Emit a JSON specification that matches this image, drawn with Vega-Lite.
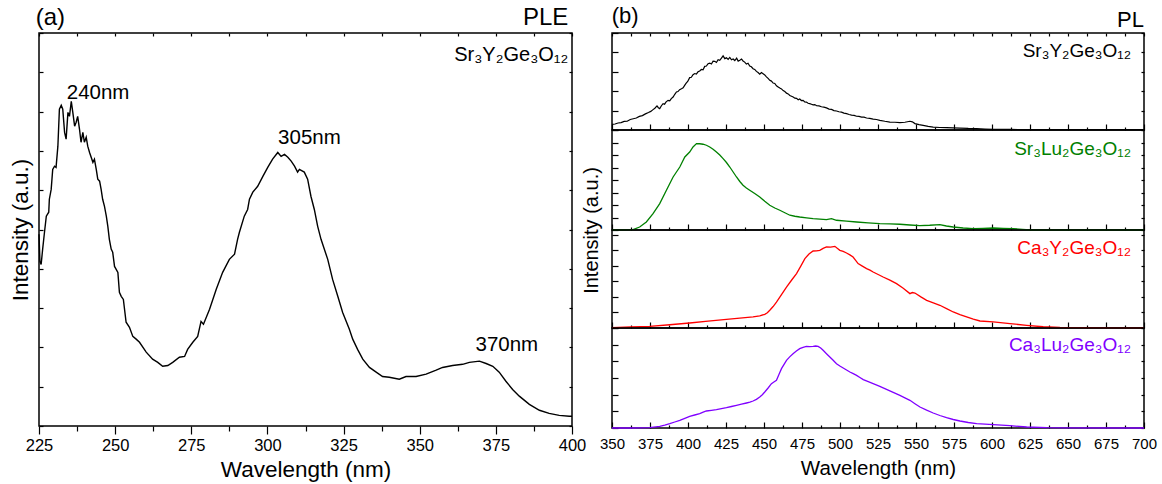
{
"$schema": "https://vega.github.io/schema/vega-lite/v6.json",
"padding": {"left": 8, "top": 4, "right": 6, "bottom": 2},
"background": "white",
"config": {
  "font": "Liberation Sans",
  "view": {"stroke": "black", "strokeWidth": 1.5},
  "axis": {"grid": false, "domain": false, "tickColor": "black", "tickWidth": 1.2, "labelColor": "black", "titleColor": "black", "titleFontWeight": "normal", "labelFlush": false, "labelOverlap": false, "labelFont": "Liberation Sans", "titleFont": "Liberation Sans"},
  "text": {"font": "Liberation Sans"}
},
"datasets": {
  "ple": [
    {"wl":225.0,"i":48.8},{"wl":225.3,"i":41.9},{"wl":225.7,"i":41.1},{"wl":226.2,"i":45.0},{"wl":226.8,"i":49.3},{"wl":227.4,"i":53.4},{"wl":228.2,"i":54.4},{"wl":228.4,"i":57.7},{"wl":229.0,"i":60.2},{"wl":229.5,"i":65.3},{"wl":230.1,"i":66.1},{"wl":230.6,"i":65.8},{"wl":231.2,"i":71.2},{"wl":231.7,"i":80.6},{"wl":232.3,"i":81.6},{"wl":232.8,"i":80.6},{"wl":233.4,"i":74.7},{"wl":233.9,"i":73.0},{"wl":234.5,"i":79.8},{"wl":235.0,"i":78.8},{"wl":235.6,"i":82.6},{"wl":236.1,"i":79.8},{"wl":236.7,"i":76.3},{"wl":237.2,"i":77.3},{"wl":237.7,"i":78.8},{"wl":238.3,"i":75.5},{"wl":238.8,"i":72.2},{"wl":239.4,"i":74.7},{"wl":239.9,"i":72.2},{"wl":240.5,"i":73.5},{"wl":241.0,"i":71.2},{"wl":241.6,"i":69.6},{"wl":242.7,"i":67.1},{"wl":243.2,"i":67.9},{"wl":243.8,"i":65.3},{"wl":244.3,"i":62.8},{"wl":244.9,"i":62.3},{"wl":245.4,"i":60.2},{"wl":245.9,"i":57.7},{"wl":246.5,"i":55.9},{"wl":247.1,"i":53.4},{"wl":247.6,"i":50.8},{"wl":248.1,"i":47.5},{"wl":248.7,"i":45.0},{"wl":249.2,"i":44.2},{"wl":249.8,"i":40.6},{"wl":250.9,"i":39.1},{"wl":251.4,"i":34.0},{"wl":252.0,"i":33.0},{"wl":252.7,"i":32.2},{"wl":253.6,"i":26.4},{"wl":254.7,"i":25.1},{"wl":255.8,"i":22.8},{"wl":256.9,"i":22.1},{"wl":258.0,"i":21.3},{"wl":260.2,"i":18.8},{"wl":262.3,"i":17.0},{"wl":264.0,"i":16.2},{"wl":265.6,"i":15.2},{"wl":267.3,"i":15.4},{"wl":268.9,"i":16.2},{"wl":271.1,"i":17.5},{"wl":272.8,"i":17.7},{"wl":273.8,"i":19.5},{"wl":275.5,"i":21.3},{"wl":277.1,"i":22.8},{"wl":278.2,"i":26.6},{"wl":279.0,"i":25.9},{"wl":281.0,"i":29.7},{"wl":283.2,"i":34.8},{"wl":285.3,"i":39.1},{"wl":287.5,"i":42.4},{"wl":289.2,"i":43.7},{"wl":290.2,"i":47.5},{"wl":290.8,"i":49.3},{"wl":292.4,"i":53.4},{"wl":293.5,"i":55.1},{"wl":294.1,"i":57.7},{"wl":295.2,"i":59.5},{"wl":296.8,"i":61.0},{"wl":298.5,"i":63.5},{"wl":300.1,"i":65.8},{"wl":301.7,"i":67.9},{"wl":303.4,"i":69.6},{"wl":304.5,"i":68.6},{"wl":305.6,"i":69.1},{"wl":306.7,"i":68.4},{"wl":307.8,"i":67.4},{"wl":308.9,"i":66.1},{"wl":309.9,"i":64.6},{"wl":310.5,"i":65.3},{"wl":312.1,"i":64.6},{"wl":313.2,"i":62.8},{"wl":314.3,"i":58.4},{"wl":315.4,"i":55.1},{"wl":316.5,"i":50.8},{"wl":317.6,"i":47.5},{"wl":319.8,"i":42.4},{"wl":321.4,"i":37.3},{"wl":323.1,"i":33.0},{"wl":324.7,"i":28.9},{"wl":326.9,"i":24.6},{"wl":328.0,"i":22.1},{"wl":329.6,"i":19.5},{"wl":331.3,"i":17.0},{"wl":333.5,"i":14.9},{"wl":335.7,"i":13.7},{"wl":337.8,"i":12.6},{"wl":340.0,"i":12.4},{"wl":343.3,"i":11.9},{"wl":345.5,"i":12.6},{"wl":348.8,"i":12.6},{"wl":352.1,"i":13.2},{"wl":355.4,"i":14.2},{"wl":357.5,"i":14.9},{"wl":360.8,"i":15.4},{"wl":364.1,"i":15.7},{"wl":366.3,"i":16.2},{"wl":369.6,"i":16.5},{"wl":371.8,"i":15.9},{"wl":374.0,"i":15.2},{"wl":376.1,"i":13.7},{"wl":378.3,"i":11.4},{"wl":380.5,"i":9.3},{"wl":382.7,"i":7.6},{"wl":386.0,"i":5.5},{"wl":389.3,"i":4.0},{"wl":392.5,"i":3.2},{"wl":395.8,"i":2.7},{"wl":399.1,"i":2.5},{"wl":400.0,"i":2.5}
  ],
  "pl1": [
    {"wl":350.0,"i":0.29},{"wl":352,"i":0.31},{"wl":354,"i":0.36},{"wl":356,"i":0.38},{"wl":358,"i":0.44},{"wl":360,"i":0.45},{"wl":362,"i":0.54},{"wl":364,"i":0.58},{"wl":366,"i":0.62},{"wl":368,"i":0.70},{"wl":370,"i":0.74},{"wl":372,"i":0.83},{"wl":374,"i":0.90},{"wl":375.5,"i":0.96},{"wl":377,"i":1.05},{"wl":378.2,"i":1.12},{"wl":379.6,"i":1.24},{"wl":380.5,"i":1.15},{"wl":381.4,"i":1.10},{"wl":382.5,"i":1.25},{"wl":383.6,"i":1.36},{"wl":384.6,"i":1.33},{"wl":385.6,"i":1.45},{"wl":386.9,"i":1.53},{"wl":388,"i":1.50},{"wl":389,"i":1.62},{"wl":390.2,"i":1.70},{"wl":391.3,"i":1.84},{"wl":392.4,"i":1.96},{"wl":393.4,"i":1.98},{"wl":394.5,"i":2.08},{"wl":395.7,"i":2.13},{"wl":396.8,"i":2.18},{"wl":397.8,"i":2.30},{"wl":398.8,"i":2.42},{"wl":399.8,"i":2.50},{"wl":401.1,"i":2.70},{"wl":402.2,"i":2.72},{"wl":403.3,"i":2.85},{"wl":404.4,"i":2.91},{"wl":405.5,"i":2.88},{"wl":406.6,"i":3.00},{"wl":407.7,"i":3.04},{"wl":408.8,"i":3.12},{"wl":409.9,"i":3.10},{"wl":411.0,"i":3.28},{"wl":412.1,"i":3.30},{"wl":413.2,"i":3.42},{"wl":414.3,"i":3.45},{"wl":415.4,"i":3.40},{"wl":416.5,"i":3.55},{"wl":417.6,"i":3.54},{"wl":418.7,"i":3.48},{"wl":419.8,"i":3.62},{"wl":420.9,"i":3.59},{"wl":422.0,"i":3.70},{"wl":423.1,"i":3.82},{"wl":424.2,"i":3.68},{"wl":425.3,"i":3.72},{"wl":426.4,"i":3.64},{"wl":427.5,"i":3.74},{"wl":428.6,"i":3.62},{"wl":429.7,"i":3.66},{"wl":430.8,"i":3.58},{"wl":432.0,"i":3.70},{"wl":433.0,"i":3.55},{"wl":434.1,"i":3.60},{"wl":435.2,"i":3.66},{"wl":436.2,"i":3.56},{"wl":437.3,"i":3.50},{"wl":438.4,"i":3.40},{"wl":439.5,"i":3.44},{"wl":440.6,"i":3.30},{"wl":441.7,"i":3.26},{"wl":442.8,"i":3.16},{"wl":443.9,"i":3.12},{"wl":445.0,"i":3.02},{"wl":446.1,"i":2.96},{"wl":447.2,"i":2.88},{"wl":448.3,"i":2.96},{"wl":449.4,"i":2.90},{"wl":450.5,"i":2.84},{"wl":451.6,"i":2.74},{"wl":452.7,"i":2.66},{"wl":453.8,"i":2.56},{"wl":454.9,"i":2.52},{"wl":456.0,"i":2.42},{"wl":457.1,"i":2.40},{"wl":458.2,"i":2.28},{"wl":459.3,"i":2.22},{"wl":460.4,"i":2.16},{"wl":461.5,"i":2.12},{"wl":462.6,"i":2.03},{"wl":463.7,"i":1.98},{"wl":464.8,"i":1.90},{"wl":465.9,"i":1.86},{"wl":467.0,"i":1.78},{"wl":468.1,"i":1.74},{"wl":469.2,"i":1.70},{"wl":470.3,"i":1.64},{"wl":471.4,"i":1.63},{"wl":472.5,"i":1.56},{"wl":473.5,"i":1.60},{"wl":474.6,"i":1.52},{"wl":475.7,"i":1.53},{"wl":476.8,"i":1.45},{"wl":477.9,"i":1.44},{"wl":479.0,"i":1.38},{"wl":480.1,"i":1.36},{"wl":481.2,"i":1.33},{"wl":482.3,"i":1.30},{"wl":483.4,"i":1.31},{"wl":484.6,"i":1.25},{"wl":486.2,"i":1.24},{"wl":487.8,"i":1.20},{"wl":489.4,"i":1.18},{"wl":491.1,"i":1.14},{"wl":492.8,"i":1.08},{"wl":494.4,"i":1.06},{"wl":496.0,"i":1.00},{"wl":497.7,"i":0.98},{"wl":499.3,"i":0.94},{"wl":501.0,"i":0.92},{"wl":502.6,"i":0.87},{"wl":504.3,"i":0.84},{"wl":506.0,"i":0.80},{"wl":507.6,"i":0.77},{"wl":509.3,"i":0.75},{"wl":510.9,"i":0.71},{"wl":512.5,"i":0.70},{"wl":514.2,"i":0.66},{"wl":515.8,"i":0.66},{"wl":517.5,"i":0.62},{"wl":519.6,"i":0.60},{"wl":521.8,"i":0.56},{"wl":524.0,"i":0.54},{"wl":526.2,"i":0.50},{"wl":529.5,"i":0.45},{"wl":532.8,"i":0.41},{"wl":536.1,"i":0.40},{"wl":539.4,"i":0.38},{"wl":542.7,"i":0.40},{"wl":546.0,"i":0.45},{"wl":547.6,"i":0.42},{"wl":549.3,"i":0.33},{"wl":552.0,"i":0.28},{"wl":554.7,"i":0.24},{"wl":558.0,"i":0.19},{"wl":561.3,"i":0.15},{"wl":565.7,"i":0.13},{"wl":570.1,"i":0.12},{"wl":574.5,"i":0.11},{"wl":578.9,"i":0.10},{"wl":584.4,"i":0.08},{"wl":589.9,"i":0.07},{"wl":595.4,"i":0.05},{"wl":600.8,"i":0.03},{"wl":611.8,"i":0.03},{"wl":622.8,"i":0.02},{"wl":640,"i":0.02},{"wl":660,"i":0.02},{"wl":680,"i":0.02},{"wl":700,"i":0.02}
  ],
  "pl2": [
    {"wl":350.0,"i":0},{"wl":363.8,"i":0.03},{"wl":368.2,"i":0.24},{"wl":372.6,"i":0.64},{"wl":377.0,"i":1.31},{"wl":381.4,"i":2.11},{"wl":385.8,"i":3.18},{"wl":390.2,"i":4.24},{"wl":394.6,"i":5.04},{"wl":397.9,"i":5.84},{"wl":401.1,"i":6.24},{"wl":403.3,"i":6.64},{"wl":405.6,"i":6.91},{"wl":407.7,"i":6.90},{"wl":409.9,"i":6.86},{"wl":412.1,"i":6.78},{"wl":414.3,"i":6.64},{"wl":416.5,"i":6.46},{"wl":418.7,"i":6.24},{"wl":420.9,"i":6.0},{"wl":423.1,"i":5.71},{"wl":425.3,"i":5.40},{"wl":427.5,"i":5.04},{"wl":429.7,"i":4.64},{"wl":431.9,"i":4.24},{"wl":434.1,"i":3.88},{"wl":436.2,"i":3.58},{"wl":438.4,"i":3.36},{"wl":440.6,"i":3.18},{"wl":443.9,"i":2.92},{"wl":447.2,"i":2.64},{"wl":450.5,"i":2.30},{"wl":453.8,"i":1.98},{"wl":457.1,"i":1.76},{"wl":460.4,"i":1.58},{"wl":463.7,"i":1.38},{"wl":467.0,"i":1.18},{"wl":470.3,"i":1.10},{"wl":473.5,"i":1.04},{"wl":478.0,"i":0.97},{"wl":482.3,"i":0.91},{"wl":486.7,"i":0.87},{"wl":491.1,"i":0.83},{"wl":494.4,"i":0.91},{"wl":497.7,"i":0.78},{"wl":504.3,"i":0.71},{"wl":510.9,"i":0.64},{"wl":518.5,"i":0.57},{"wl":526.2,"i":0.51},{"wl":532.8,"i":0.49},{"wl":539.4,"i":0.46},{"wl":546.0,"i":0.40},{"wl":552.6,"i":0.35},{"wl":559.0,"i":0.38},{"wl":565.7,"i":0.43},{"wl":570.0,"i":0.32},{"wl":574.5,"i":0.24},{"wl":581.0,"i":0.16},{"wl":587.7,"i":0.11},{"wl":594.0,"i":0.13},{"wl":600.8,"i":0.16},{"wl":607.4,"i":0.13},{"wl":614.0,"i":0.11},{"wl":620.0,"i":0.05},{"wl":625.0,"i":0.0},{"wl":700,"i":0.0}
  ],
  "pl3": [
    {"wl":350.0,"i":0.03},{"wl":362.4,"i":0.07},{"wl":374.8,"i":0.11},{"wl":388.0,"i":0.21},{"wl":401.1,"i":0.32},{"wl":413.2,"i":0.44},{"wl":425.3,"i":0.56},{"wl":434.1,"i":0.64},{"wl":442.8,"i":0.71},{"wl":447.2,"i":0.78},{"wl":450.5,"i":0.88},{"wl":452.2,"i":0.98},{"wl":453.8,"i":1.14},{"wl":456.0,"i":1.38},{"wl":458.2,"i":1.67},{"wl":461.5,"i":2.15},{"wl":464.8,"i":2.63},{"wl":468.1,"i":3.07},{"wl":471.4,"i":3.50},{"wl":474.2,"i":3.98},{"wl":476.9,"i":4.46},{"wl":479.6,"i":4.76},{"wl":482.3,"i":4.95},{"wl":484.5,"i":4.96},{"wl":486.7,"i":4.99},{"wl":488.9,"i":5.12},{"wl":491.1,"i":5.21},{"wl":493.8,"i":5.20},{"wl":496.6,"i":5.25},{"wl":498.2,"i":5.12},{"wl":499.9,"i":4.99},{"wl":502.1,"i":4.92},{"wl":504.3,"i":4.82},{"wl":506.5,"i":4.70},{"wl":508.6,"i":4.56},{"wl":510.3,"i":4.35},{"wl":511.9,"i":4.14},{"wl":514.7,"i":3.98},{"wl":517.5,"i":3.82},{"wl":519.7,"i":3.72},{"wl":521.8,"i":3.60},{"wl":525.1,"i":3.44},{"wl":528.4,"i":3.28},{"wl":532.8,"i":3.08},{"wl":537.2,"i":2.85},{"wl":541.6,"i":2.55},{"wl":546.0,"i":2.21},{"wl":547.6,"i":2.28},{"wl":549.3,"i":2.25},{"wl":553.2,"i":2.00},{"wl":557.0,"i":1.78},{"wl":561.4,"i":1.62},{"wl":565.7,"i":1.46},{"wl":570.1,"i":1.25},{"wl":574.5,"i":1.03},{"wl":578.9,"i":0.86},{"wl":583.3,"i":0.71},{"wl":587.7,"i":0.57},{"wl":592.1,"i":0.45},{"wl":600.8,"i":0.39},{"wl":611.8,"i":0.28},{"wl":622.8,"i":0.17},{"wl":633.7,"i":0.08},{"wl":644.7,"i":0.04},{"wl":660,"i":0.02},{"wl":680,"i":0.01},{"wl":700,"i":0.01}
  ],
  "pl4": [
    {"wl":350.0,"i":0},{"wl":362.4,"i":0.0},{"wl":374.8,"i":0.02},{"wl":381.4,"i":0.10},{"wl":384.7,"i":0.17},{"wl":388.0,"i":0.26},{"wl":391.3,"i":0.36},{"wl":394.6,"i":0.46},{"wl":397.9,"i":0.58},{"wl":401.1,"i":0.70},{"wl":404.4,"i":0.78},{"wl":407.7,"i":0.86},{"wl":410.0,"i":0.95},{"wl":412.1,"i":1.02},{"wl":415.4,"i":1.06},{"wl":418.7,"i":1.10},{"wl":422.0,"i":1.16},{"wl":425.3,"i":1.22},{"wl":428.6,"i":1.29},{"wl":431.9,"i":1.36},{"wl":435.2,"i":1.43},{"wl":438.5,"i":1.50},{"wl":440.7,"i":1.55},{"wl":442.8,"i":1.62},{"wl":445.0,"i":1.72},{"wl":447.2,"i":1.86},{"wl":448.9,"i":2.0},{"wl":450.5,"i":2.16},{"wl":452.7,"i":2.40},{"wl":454.9,"i":2.66},{"wl":456.5,"i":2.76},{"wl":458.2,"i":2.86},{"wl":459.9,"i":3.22},{"wl":461.5,"i":3.56},{"wl":463.2,"i":3.82},{"wl":464.8,"i":4.06},{"wl":466.9,"i":4.27},{"wl":469.1,"i":4.46},{"wl":471.3,"i":4.62},{"wl":473.5,"i":4.76},{"wl":475.7,"i":4.84},{"wl":477.9,"i":4.90},{"wl":480.1,"i":4.88},{"wl":482.3,"i":4.90},{"wl":484.0,"i":4.92},{"wl":485.6,"i":4.90},{"wl":487.3,"i":4.80},{"wl":488.9,"i":4.66},{"wl":491.1,"i":4.46},{"wl":493.3,"i":4.26},{"wl":495.5,"i":4.06},{"wl":497.7,"i":3.86},{"wl":499.9,"i":3.72},{"wl":502.1,"i":3.60},{"wl":504.3,"i":3.48},{"wl":506.5,"i":3.36},{"wl":508.7,"i":3.26},{"wl":510.9,"i":3.16},{"wl":513.1,"i":3.03},{"wl":515.3,"i":2.90},{"wl":518.6,"i":2.78},{"wl":521.8,"i":2.66},{"wl":526.2,"i":2.50},{"wl":530.6,"i":2.32},{"wl":535.0,"i":2.14},{"wl":539.4,"i":1.96},{"wl":542.7,"i":1.81},{"wl":546.0,"i":1.66},{"wl":549.3,"i":1.46},{"wl":552.6,"i":1.26},{"wl":557.0,"i":1.07},{"wl":561.3,"i":0.90},{"wl":565.7,"i":0.75},{"wl":570.1,"i":0.62},{"wl":574.5,"i":0.51},{"wl":578.9,"i":0.42},{"wl":584.4,"i":0.33},{"wl":589.9,"i":0.26},{"wl":595.4,"i":0.23},{"wl":600.8,"i":0.20},{"wl":611.8,"i":0.14},{"wl":622.8,"i":0.06},{"wl":636.0,"i":0.02},{"wl":650,"i":0.01},{"wl":700,"i":0.0}
  ]
},
"spacing": 40,
"bounds": "flush",
"hconcat": [
  {
    "width": 533, "height": 393,
    "resolve": {"axis": {"x": "independent", "y": "independent"}},
    "layer": [
      {"data": {"name": "ple"}, "mark": {"type": "line", "color": "black", "strokeWidth": 1.4},
       "encoding": {
         "x": {"field": "wl", "type": "quantitative", "scale": {"domain": [225, 400], "nice": false, "zero": false},
               "axis": {"orient": "bottom", "values": [225,237.5,250,262.5,275,287.5,300,312.5,325,337.5,350,362.5,375,387.5,400],
                        "labelExpr": "datum.value % 25 === 0 ? datum.label : ''",
                        "tickSize": {"condition": {"test": "datum.value % 25 === 0", "value": 8}, "value": 5},
                        "labelFontSize": 16.5, "labelPadding": 3, "title": "Wavelength (nm)", "titleFontSize": 22.5, "titlePadding": 5}},
         "y": {"field": "i", "type": "quantitative", "scale": {"domain": [0, 100], "nice": false, "zero": false},
               "axis": {"orient": "left", "values": [0,10,20,30,40,50,60,70,80,90,100], "labels": false, "tickSize": -4,
                        "title": "Intensity (a.u.)", "titleFontSize": 22.5, "titlePadding": 6}}
       }},
      {"data": {"name": "ple"}, "mark": {"type": "line", "opacity": 0},
       "encoding": {
         "x": {"field": "wl", "type": "quantitative", "scale": {"domain": [225, 400], "nice": false, "zero": false},
               "axis": {"orient": "top", "values": [225,237.5,250,262.5,275,287.5,300,312.5,325,337.5,350,362.5,375,387.5,400], "labels": false, "tickSize": -3, "title": null}},
         "y": {"field": "i", "type": "quantitative", "scale": {"domain": [0, 100], "nice": false, "zero": false},
               "axis": {"orient": "right", "values": [0,10,20,30,40,50,60,70,80,90,100], "labels": false, "tickSize": -3, "title": null}}
       }},
      {"data": {"values": [{"wl": 244.4, "i": 83.1, "label": "240nm"}, {"wl": 313.8, "i": 71.7, "label": "305nm"}, {"wl": 378.6, "i": 19.1, "label": "370nm"}]},
       "mark": {"type": "text", "fontSize": 20.5, "align": "center", "baseline": "alphabetic", "color": "black"},
       "encoding": {
         "x": {"field": "wl", "type": "quantitative", "scale": {"domain": [225, 400], "nice": false, "zero": false}, "axis": null},
         "y": {"field": "i", "type": "quantitative", "scale": {"domain": [0, 100], "nice": false, "zero": false}, "axis": null},
         "text": {"field": "label"}
       }},
      {"data": {"values": [{"wl": 223.9, "i": 102, "label": "(a)"}]},
       "mark": {"type": "text", "fontSize": 24, "align": "left", "baseline": "alphabetic", "color": "black"},
       "encoding": {
         "x": {"field": "wl", "type": "quantitative", "scale": {"domain": [225, 400], "nice": false, "zero": false}, "axis": null},
         "y": {"field": "i", "type": "quantitative", "scale": {"domain": [0, 100], "nice": false, "zero": false}, "axis": null},
         "text": {"field": "label"}
       }},
      {"data": {"values": [{"wl": 398.8, "i": 102, "label": "PLE"}]},
       "mark": {"type": "text", "fontSize": 24, "align": "right", "baseline": "alphabetic", "color": "black"},
       "encoding": {
         "x": {"field": "wl", "type": "quantitative", "scale": {"domain": [225, 400], "nice": false, "zero": false}, "axis": null},
         "y": {"field": "i", "type": "quantitative", "scale": {"domain": [0, 100], "nice": false, "zero": false}, "axis": null},
         "text": {"field": "label"}
       }},
      {"data": {"values": [{"wl": 398.8, "i": 92.9, "label": "Sr₃Y₂Ge₃O₁₂"}]},
       "mark": {"type": "text", "fontSize": 20, "align": "right", "baseline": "alphabetic", "color": "black"},
       "encoding": {
         "x": {"field": "wl", "type": "quantitative", "scale": {"domain": [225, 400], "nice": false, "zero": false}, "axis": null},
         "y": {"field": "i", "type": "quantitative", "scale": {"domain": [0, 100], "nice": false, "zero": false}, "axis": null},
         "text": {"field": "label"}
       }}
    ]
  },
  {
    "spacing": 0,
    "bounds": "flush",
    "vconcat": [
      {
        "width": 532, "height": 97,
        "resolve": {"axis": {"x": "independent", "y": "independent"}},
        "layer": [
          {"data": {"name": "pl1"}, "mark": {"type": "line", "color": "black", "strokeWidth": 1.2},
           "encoding": {
             "x": {"field": "wl", "type": "quantitative", "scale": {"domain": [350, 700], "nice": false, "zero": false},
                   "axis": {"orient": "bottom", "values": [350,362.5,375,387.5,400,412.5,425,437.5,450,462.5,475,487.5,500,512.5,525,537.5,550,562.5,575,587.5,600,612.5,625,637.5,650,662.5,675,687.5,700], "labels": false, "title": null,
                            "tickSize": {"condition": {"test": "datum.value % 25 === 0", "value": -6}, "value": -3}}},
             "y": {"field": "i", "type": "quantitative", "scale": {"domain": [0, 5], "nice": false, "zero": false},
                   "axis": {"orient": "left", "values": [0,1,2,3,4,5], "labels": false, "title": null, "tickSize": -6}}
           }},
          {"data": {"name": "pl1"}, "mark": {"type": "line", "opacity": 0},
           "encoding": {
             "x": {"field": "wl", "type": "quantitative", "scale": {"domain": [350, 700], "nice": false, "zero": false},
                   "axis": {"orient": "top", "values": [350,362.5,375,387.5,400,412.5,425,437.5,450,462.5,475,487.5,500,512.5,525,537.5,550,562.5,575,587.5,600,612.5,625,637.5,650,662.5,675,687.5,700], "labels": false, "title": null, "tickSize": -3}},
             "y": {"field": "i", "type": "quantitative", "scale": {"domain": [0, 5], "nice": false, "zero": false},
                   "axis": {"orient": "right", "values": [0,1,2,3,4,5], "labels": false, "title": null, "tickSize": -3}}
           }},
          {"data": {"values": [{"wl": 691.5, "i": 3.76, "label": "Sr₃Y₂Ge₃O₁₂"}]},
           "mark": {"type": "text", "fontSize": 19, "align": "right", "baseline": "alphabetic", "color": "black"},
           "encoding": {
             "x": {"field": "wl", "type": "quantitative", "scale": {"domain": [350, 700], "nice": false, "zero": false}, "axis": null},
             "y": {"field": "i", "type": "quantitative", "scale": {"domain": [0, 5], "nice": false, "zero": false}, "axis": null},
             "text": {"field": "label"}
           }},
          {"data": {"values": [{"wl": 349.8, "i": 5.5, "label": "(b)"}]},
           "mark": {"type": "text", "fontSize": 22, "align": "left", "baseline": "alphabetic", "color": "black"},
           "encoding": {
             "x": {"field": "wl", "type": "quantitative", "scale": {"domain": [350, 700], "nice": false, "zero": false}, "axis": null},
             "y": {"field": "i", "type": "quantitative", "scale": {"domain": [0, 5], "nice": false, "zero": false}, "axis": null},
             "text": {"field": "label"}
           }},
          {"data": {"values": [{"wl": 700, "i": 5.29, "label": "PL"}]},
           "mark": {"type": "text", "fontSize": 22, "align": "right", "baseline": "alphabetic", "color": "black"},
           "encoding": {
             "x": {"field": "wl", "type": "quantitative", "scale": {"domain": [350, 700], "nice": false, "zero": false}, "axis": null},
             "y": {"field": "i", "type": "quantitative", "scale": {"domain": [0, 5], "nice": false, "zero": false}, "axis": null},
             "text": {"field": "label"}
           }}
        ]
      },
      {
        "width": 532, "height": 100,
        "resolve": {"axis": {"x": "independent", "y": "independent"}},
        "layer": [
          {"data": {"name": "pl2"}, "mark": {"type": "line", "color": "#008000", "strokeWidth": 1.3},
           "encoding": {
             "x": {"field": "wl", "type": "quantitative", "scale": {"domain": [350, 700], "nice": false, "zero": false},
                   "axis": {"orient": "bottom", "values": [350,362.5,375,387.5,400,412.5,425,437.5,450,462.5,475,487.5,500,512.5,525,537.5,550,562.5,575,587.5,600,612.5,625,637.5,650,662.5,675,687.5,700], "labels": false, "title": null,
                            "tickSize": {"condition": {"test": "datum.value % 25 === 0", "value": -6}, "value": -3}}},
             "y": {"field": "i", "type": "quantitative", "scale": {"domain": [0, 8], "nice": false, "zero": false},
                   "axis": {"orient": "left", "values": [0,1,2,3,4,5,6,7,8], "labels": false, "tickSize": -6,
                            "title": "Intensity (a.u.)", "titleFontSize": 20, "titlePadding": 10, "titleAnchor": "start", "titleAlign": "center"}}
           }},
          {"data": {"name": "pl2"}, "mark": {"type": "line", "opacity": 0},
           "encoding": {
             "x": {"field": "wl", "type": "quantitative", "scale": {"domain": [350, 700], "nice": false, "zero": false}, "axis": null},
             "y": {"field": "i", "type": "quantitative", "scale": {"domain": [0, 8], "nice": false, "zero": false},
                   "axis": {"orient": "right", "values": [0,1,2,3,4,5,6,7,8], "labels": false, "title": null, "tickSize": -3}}
           }},
          {"data": {"values": [{"wl": 691.5, "i": 5.98, "label": "Sr₃Lu₂Ge₃O₁₂"}]},
           "mark": {"type": "text", "fontSize": 19, "align": "right", "baseline": "alphabetic", "color": "#008000"},
           "encoding": {
             "x": {"field": "wl", "type": "quantitative", "scale": {"domain": [350, 700], "nice": false, "zero": false}, "axis": null},
             "y": {"field": "i", "type": "quantitative", "scale": {"domain": [0, 8], "nice": false, "zero": false}, "axis": null},
             "text": {"field": "label"}
           }}
        ]
      },
      {
        "width": 532, "height": 98,
        "resolve": {"axis": {"x": "independent", "y": "independent"}},
        "layer": [
          {"data": {"name": "pl3"}, "mark": {"type": "line", "color": "#ff0000", "strokeWidth": 1.3},
           "encoding": {
             "x": {"field": "wl", "type": "quantitative", "scale": {"domain": [350, 700], "nice": false, "zero": false},
                   "axis": {"orient": "bottom", "values": [350,362.5,375,387.5,400,412.5,425,437.5,450,462.5,475,487.5,500,512.5,525,537.5,550,562.5,575,587.5,600,612.5,625,637.5,650,662.5,675,687.5,700], "labels": false, "title": null,
                            "tickSize": {"condition": {"test": "datum.value % 25 === 0", "value": -6}, "value": -3}}},
             "y": {"field": "i", "type": "quantitative", "scale": {"domain": [0, 6.3], "nice": false, "zero": false},
                   "axis": {"orient": "left", "values": [0,1,2,3,4,5,6], "labels": false, "title": null, "tickSize": -6}}
           }},
          {"data": {"name": "pl3"}, "mark": {"type": "line", "opacity": 0},
           "encoding": {
             "x": {"field": "wl", "type": "quantitative", "scale": {"domain": [350, 700], "nice": false, "zero": false}, "axis": null},
             "y": {"field": "i", "type": "quantitative", "scale": {"domain": [0, 6.3], "nice": false, "zero": false},
                   "axis": {"orient": "right", "values": [0,1,2,3,4,5,6], "labels": false, "title": null, "tickSize": -3}}
           }},
          {"data": {"values": [{"wl": 691.5, "i": 4.78, "label": "Ca₃Y₂Ge₃O₁₂"}]},
           "mark": {"type": "text", "fontSize": 19, "align": "right", "baseline": "alphabetic", "color": "#ff0000"},
           "encoding": {
             "x": {"field": "wl", "type": "quantitative", "scale": {"domain": [350, 700], "nice": false, "zero": false}, "axis": null},
             "y": {"field": "i", "type": "quantitative", "scale": {"domain": [0, 6.3], "nice": false, "zero": false}, "axis": null},
             "text": {"field": "label"}
           }}
        ]
      },
      {
        "width": 532, "height": 100,
        "resolve": {"axis": {"x": "independent", "y": "independent"}},
        "layer": [
          {"data": {"name": "pl4"}, "mark": {"type": "line", "color": "#8000ff", "strokeWidth": 1.3},
           "encoding": {
             "x": {"field": "wl", "type": "quantitative", "scale": {"domain": [350, 700], "nice": false, "zero": false},
                   "axis": {"orient": "bottom", "values": [350,362.5,375,387.5,400,412.5,425,437.5,450,462.5,475,487.5,500,512.5,525,537.5,550,562.5,575,587.5,600,612.5,625,637.5,650,662.5,675,687.5,700],
                            "labelExpr": "datum.value % 25 === 0 ? datum.label : ''", "labelFontSize": 15, "labelPadding": 14,
                            "title": "Wavelength (nm)", "titleFontSize": 20.5, "titlePadding": 4,
                            "tickSize": {"condition": {"test": "datum.value % 25 === 0", "value": -6}, "value": -3}}},
             "y": {"field": "i", "type": "quantitative", "scale": {"domain": [0, 6], "nice": false, "zero": false},
                   "axis": {"orient": "left", "values": [0,1,2,3,4,5,6], "labels": false, "title": null, "tickSize": -6}}
           }},
          {"data": {"name": "pl4"}, "mark": {"type": "line", "opacity": 0},
           "encoding": {
             "x": {"field": "wl", "type": "quantitative", "scale": {"domain": [350, 700], "nice": false, "zero": false}, "axis": null},
             "y": {"field": "i", "type": "quantitative", "scale": {"domain": [0, 6], "nice": false, "zero": false},
                   "axis": {"orient": "right", "values": [0,1,2,3,4,5,6], "labels": false, "title": null, "tickSize": -3}}
           }},
          {"data": {"values": [{"wl": 691.5, "i": 4.6, "label": "Ca₃Lu₂Ge₃O₁₂"}]},
           "mark": {"type": "text", "fontSize": 19, "align": "right", "baseline": "alphabetic", "color": "#8000ff"},
           "encoding": {
             "x": {"field": "wl", "type": "quantitative", "scale": {"domain": [350, 700], "nice": false, "zero": false}, "axis": null},
             "y": {"field": "i", "type": "quantitative", "scale": {"domain": [0, 6], "nice": false, "zero": false}, "axis": null},
             "text": {"field": "label"}
           }}
        ]
      }
    ]
  }
]
}
